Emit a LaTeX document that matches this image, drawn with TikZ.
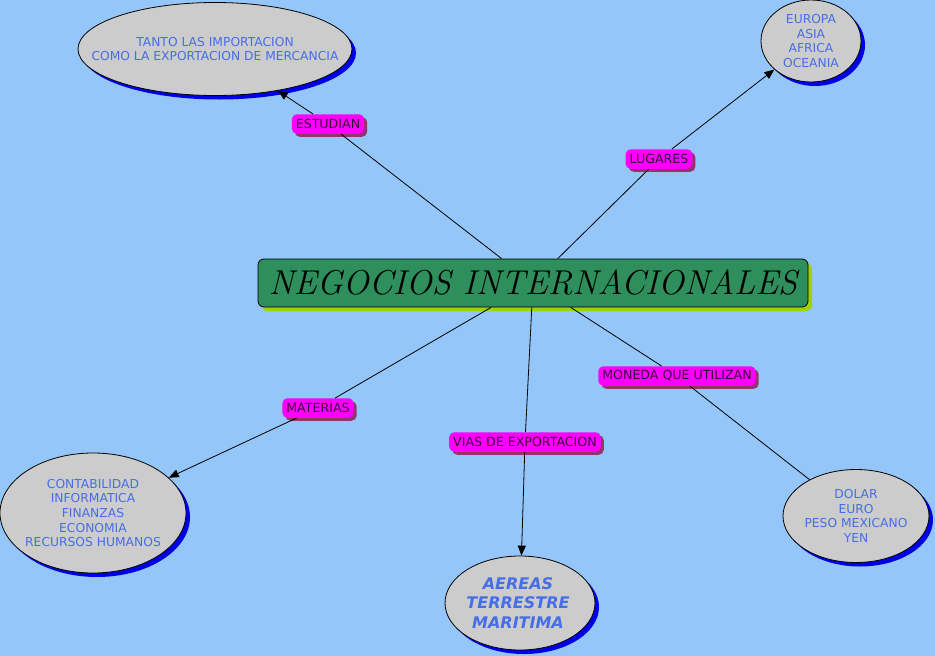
\documentclass[tikz,border=0pt]{standalone}
\usepackage{fontspec}
\newfontfamily\verd{DejaVu Sans}
\usetikzlibrary{shapes.geometric,arrows.meta,shadows}
\definecolor{bg}{RGB}{148,198,250}
\definecolor{mainfill}{RGB}{46,142,92}
\definecolor{mainshadow}{RGB}{160,210,0}
\definecolor{ellfill}{RGB}{204,204,204}
\definecolor{ellshadow}{RGB}{0,0,230}
\definecolor{elltext}{RGB}{70,110,230}
\definecolor{labfill}{RGB}{255,0,255}
\definecolor{labshadow}{RGB}{150,50,110}
\definecolor{labtext}{RGB}{60,0,60}
\tikzset{
  mainbox/.style={draw=black, line width=0.8pt, fill=mainfill, rounded corners=6pt,
    minimum width=550pt, minimum height=48pt, inner sep=0pt,
    drop shadow={shadow xshift=4pt, shadow yshift=-4pt, fill=mainshadow, opacity=1}},
  ell/.style={ellipse, draw=black, line width=0.8pt, fill=ellfill, inner sep=0pt,
    drop shadow={shadow xshift=4pt, shadow yshift=-4pt, fill=ellshadow, opacity=1}},
  elltxt/.style={align=center, text=elltext, inner sep=0pt,
    font=\verd\fontsize{12.3}{14.6}\selectfont},
  lab/.style={fill=labfill, rounded corners=5pt, minimum height=19.5pt, inner xsep=4pt,
    inner ysep=3pt, text=labtext, font=\verd\fontsize{12.6}{14}\selectfont,
    drop shadow={shadow xshift=3pt, shadow yshift=-3pt, fill=labshadow, opacity=1}},
  link/.style={draw=black, line width=0.8pt},
  arr/.style={link, -{Triangle[length=10pt,width=8pt]}}
}
\begin{document}
\begin{tikzpicture}[x=1pt,y=-1pt]
\useasboundingbox[fill=bg] (0,0) rectangle (935,656);

\node[mainbox] (main) at (533,283) {\fontsize{34.5}{34.5}\selectfont\itshape NEGOCIOS INTERNACIONALES};

\node[ell, minimum width=274pt, minimum height=93pt] (e1) at (215,49) {};
\node[elltxt] (e1t) at (e1) {TANTO LAS IMPORTACION\\COMO LA EXPORTACION DE MERCANCIA};
\node[ell, minimum width=100pt, minimum height=82pt] (e2) at (811,41) {};
\node[elltxt] (e2t) at (e2) {EUROPA\\ASIA\\AFRICA\\OCEANIA};
\node[ell, minimum width=186pt, minimum height=120pt] (e3) at (93,513) {};
\node[elltxt] (e3t) at (e3) {CONTABILIDAD\\INFORMATICA\\FINANZAS\\ECONOMIA\\RECURSOS HUMANOS};
\node[ell, minimum width=150pt, minimum height=94pt] (e4) at (520,603) {};
\node[elltxt, font=\verd\bfseries\itshape\fontsize{16}{19.5}\selectfont] (e4t) at (518,603)
  {AEREAS\\TERRESTRE\\MARITIMA};
\node[ell, minimum width=146pt, minimum height=93pt] (e5) at (856,516) {};
\node[elltxt] (e5t) at (e5) {DOLAR\\EURO\\PESO MEXICANO\\YEN};

\node[lab] (l1) at (328,124) {ESTUDIAN};
\node[lab] (l2) at (659,159) {LUGARES};
\node[lab] (l3) at (318,408) {MATERIAS};
\node[lab] (l4) at (525,442) {VIAS DE EXPORTACION};
\node[lab] (l5) at (677,376) {MONEDA QUE UTILIZAN};

\draw[link] (main) -- (l1);
\draw[arr] (l1) -- (e1);
\draw[link] (main) -- (l2);
\draw[arr] (l2) -- (e2);
\draw[link] (main) -- (l3);
\draw[arr] (l3) -- (e3);
\draw[link] (main) -- (l4);
\draw[arr] (l4) -- (e4);
\draw[link] (main) -- (l5);
\draw[link] (l5) -- (e5);
\end{tikzpicture}
\end{document}
